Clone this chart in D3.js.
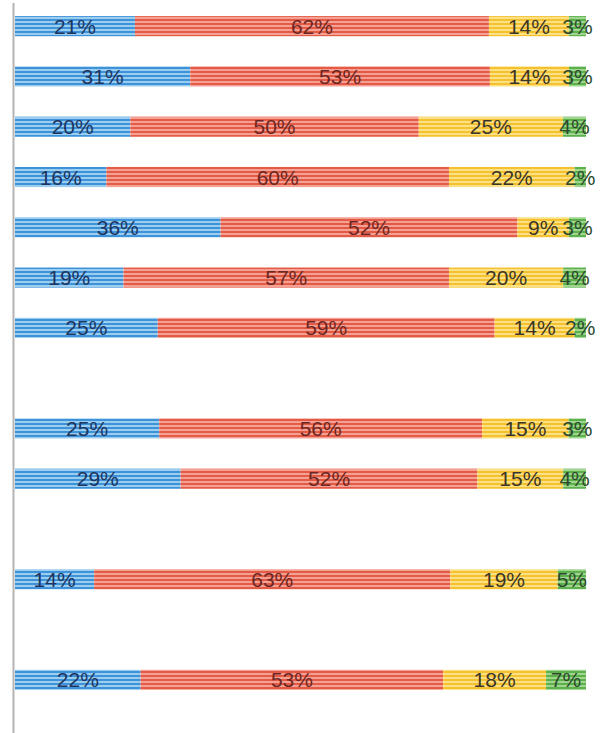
<!DOCTYPE html>
<html>
<head>
<meta charset="utf-8">
<script src="https://cdn.jsdelivr.net/npm/d3@7/dist/d3.min.js"></script>
<style>
  html, body { margin: 0; padding: 0; background: #ffffff; }
  svg { display: block; }
</style>
</head>
<body>
<svg id="chart" width="611" height="733"></svg>
<script>
// Row slots (blank slots create the visible gaps between groups)
const rows = ["r1", "r2", "r3", "r4", "r5", "r6", "r7", "gap1", "r8", "r9", "gap2", "r10", "gap3", "r11"];
const barRows = ["r1", "r2", "r3", "r4", "r5", "r6", "r7", "r8", "r9", "r10", "r11"];
const seriesKeys = ["blue", "red", "yellow", "green"];
const blueVals   = [21, 31, 20, 16, 36, 19, 25, 25, 29, 14, 22];
const redVals    = [62, 53, 50, 60, 52, 57, 59, 56, 52, 63, 53];
const yellowVals = [14, 14, 25, 22, 9, 20, 14, 15, 15, 19, 18];
const greenVals  = [3, 3, 4, 2, 3, 4, 2, 3, 4, 5, 7];

const data = barRows.map((r, i) => ({
  row: r, blue: blueVals[i], red: redVals[i], yellow: yellowVals[i], green: greenVals[i]
}));

const colors = {
  blue:   { base: "#3d92da", stripe: "#b2dcf5", text: "#1d355f" },
  red:    { base: "#e55a46", stripe: "#f7b3a5", text: "#6e2622" },
  yellow: { base: "#f5c12e", stripe: "#fce99a", text: "#3a3528" },
  green:  { base: "#5cb14c", stripe: "#b0dea0", text: "#2c4a2c" }
};

const svg = d3.select("#chart");
const defs = svg.append("defs");
seriesKeys.forEach(k => {
  const p = defs.append("pattern")
    .attr("id", "pat-" + k)
    .attr("patternUnits", "userSpaceOnUse")
    .attr("width", 8).attr("height", 4);
  p.append("rect").attr("width", 8).attr("height", 4).attr("fill", colors[k].base);
  p.append("rect").attr("y", 1.2).attr("width", 8).attr("height", 1.6).attr("fill", colors[k].stripe);
});

const x = d3.scaleLinear().domain([0, 1]).range([15, 586]);
const y = d3.scaleBand().domain(rows).range([1, 705]).paddingInner(0.6).paddingOuter(0.3);

const stack = d3.stack().keys(seriesKeys).offset(d3.stackOffsetExpand);
const series = stack(data);

// left axis line
svg.append("line")
  .attr("x1", 13.5).attr("x2", 13.5)
  .attr("y1", 3).attr("y2", 733)
  .attr("stroke", "#b4b4b4").attr("stroke-width", 2);

const g = svg.append("g");
series.forEach(s => {
  const k = s.key;
  g.selectAll(null).data(s).enter().append("rect")
    .attr("x", d => x(d[0]))
    .attr("y", d => y(d.data.row))
    .attr("width", d => x(d[1]) - x(d[0]))
    .attr("height", y.bandwidth())
    .attr("fill", "url(#pat-" + k + ")");
});

series.forEach(s => {
  const k = s.key;
  g.selectAll(null).data(s).enter().append("text")
    .attr("x", d => (x(d[0]) + x(d[1])) / 2)
    .attr("y", d => y(d.data.row) + y.bandwidth() / 2 + 7.5)
    .attr("text-anchor", "middle")
    .attr("font-family", "'Liberation Sans', Arial, sans-serif")
    .attr("font-size", 21)
    .attr("fill", colors[k].text)
    .text(d => d.data[k] + "%");
});
</script>
</body>
</html>
